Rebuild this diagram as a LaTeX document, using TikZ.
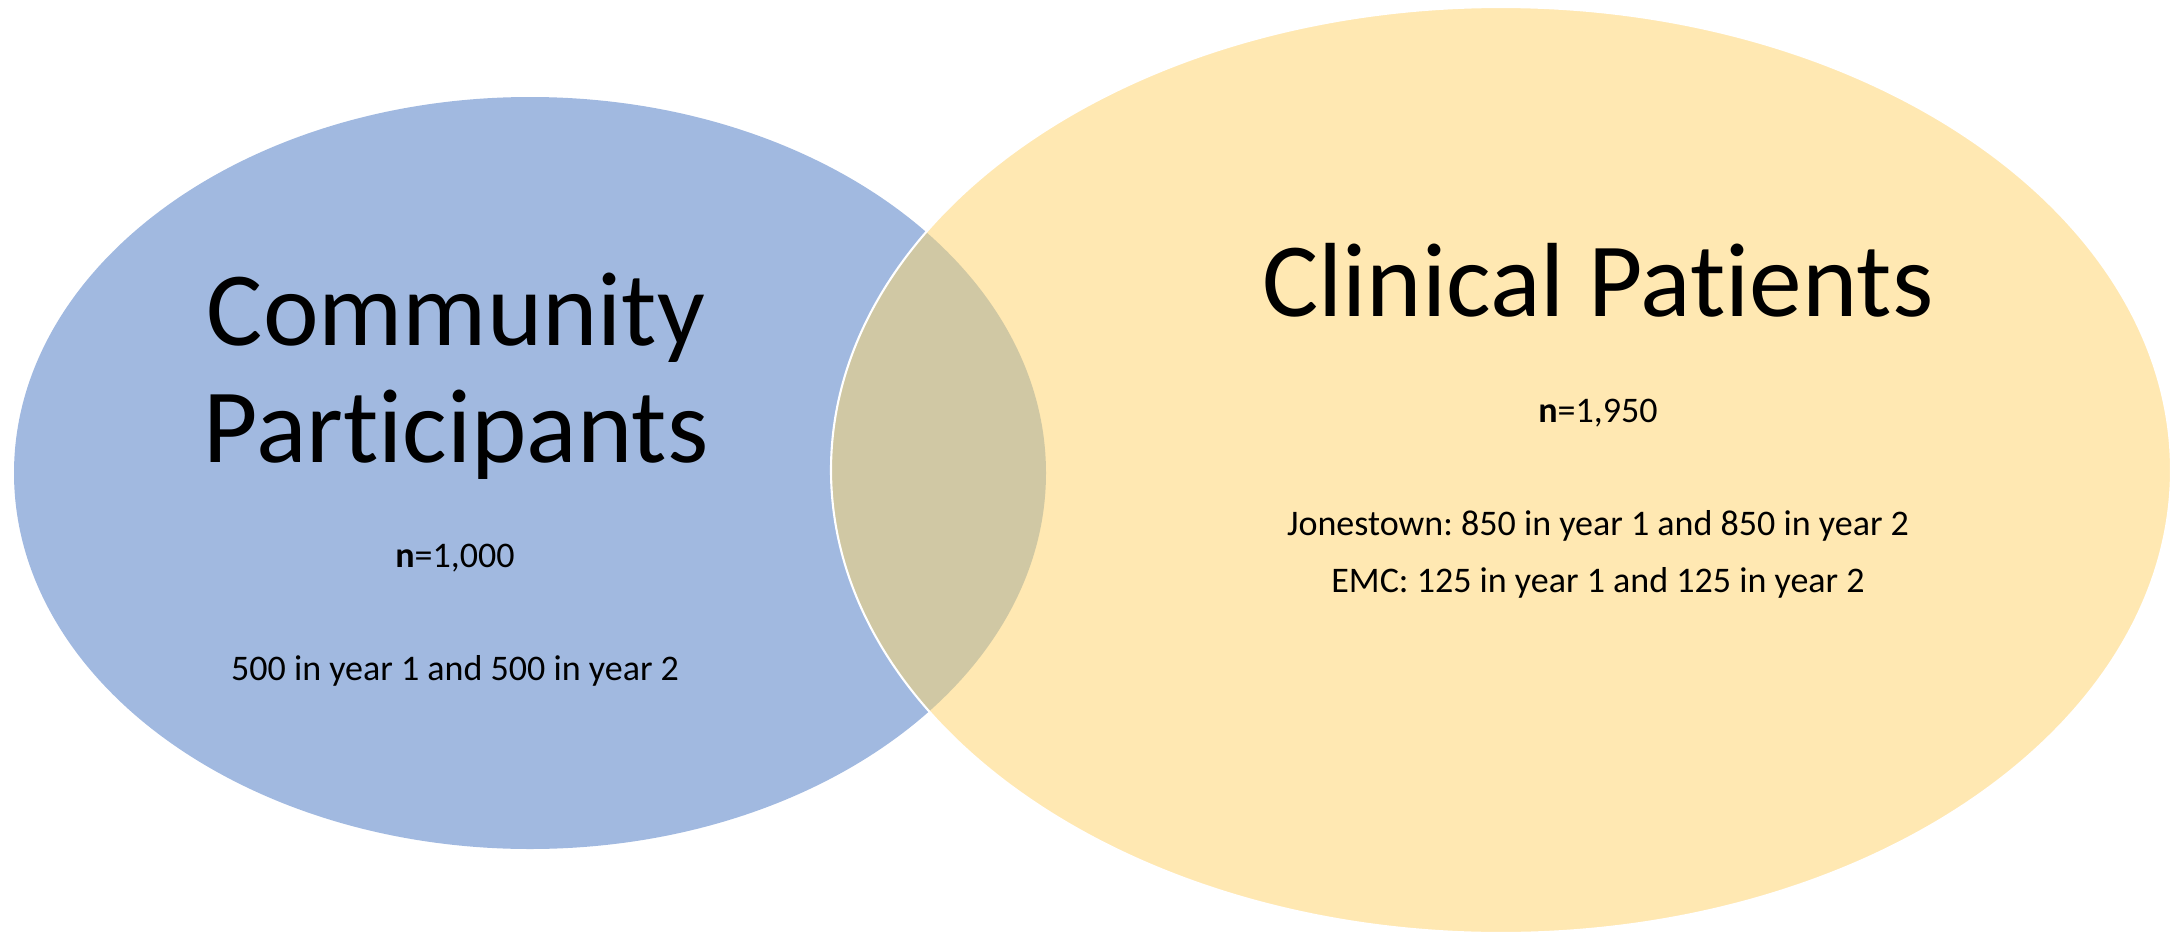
\documentclass[tikz,border=0pt]{standalone}
\usepackage{fontspec}
\setmainfont[Ligatures=NoCommon]{Carlito}
\usepackage{xcolor}
\definecolor{setblue}{RGB}{161,185,224}
\definecolor{setyellow}{RGB}{255,232,178}
\definecolor{setboth}{RGB}{208,200,164}
\tikzset{
    label_text/.style = {align=center, inner sep=0pt, anchor=base, black},
    title_text/.style = {label_text, font=\fontsize{60}{66}\selectfont},
    count_text/.style = {label_text, font=\fontsize{20.5}{24}\selectfont\frenchspacing}
}

\begin{document}
\begin{tikzpicture}[x=0.02cm, y=-0.02cm]
    \useasboundingbox (0,0) rectangle (2174,933);

    % the two sets
    \fill [setblue] (530,473) ellipse [x radius=516, y radius=376];
    \fill [setyellow] (1501,470) ellipse [x radius=670, y radius=463];
    \begin{scope}
        \clip (1501,470) ellipse [x radius=670, y radius=463];
        \fill [setboth] (530,473) ellipse [x radius=516, y radius=376];
    \end{scope}
    \draw [white, line width=1.2pt] (1501,470) ellipse [x radius=670, y radius=463];

    % community
    \node [title_text] (comm_a) at (456,345) {Community};
    \node [title_text] (comm_b) at (456,462) {Participants};
    \node [count_text] (comm_n) at (455,567) {\textbf{n}=1,000};
    \node [count_text] (comm_y) at (455,680) {500 in year 1 and 500 in year 2};

    % clinical
    \node [title_text] (clin_a) at (1598,316) {Clinical Patients};
    \node [count_text] (clin_n) at (1598,422) {\textbf{n}=1,950};
    \node [count_text] (clin_j) at (1598,535) {Jonestown: 850 in year 1 and 850 in year 2};
    \node [count_text] (clin_e) at (1598,592) {EMC: 125 in year 1 and 125 in year 2};
\end{tikzpicture}
\end{document}
